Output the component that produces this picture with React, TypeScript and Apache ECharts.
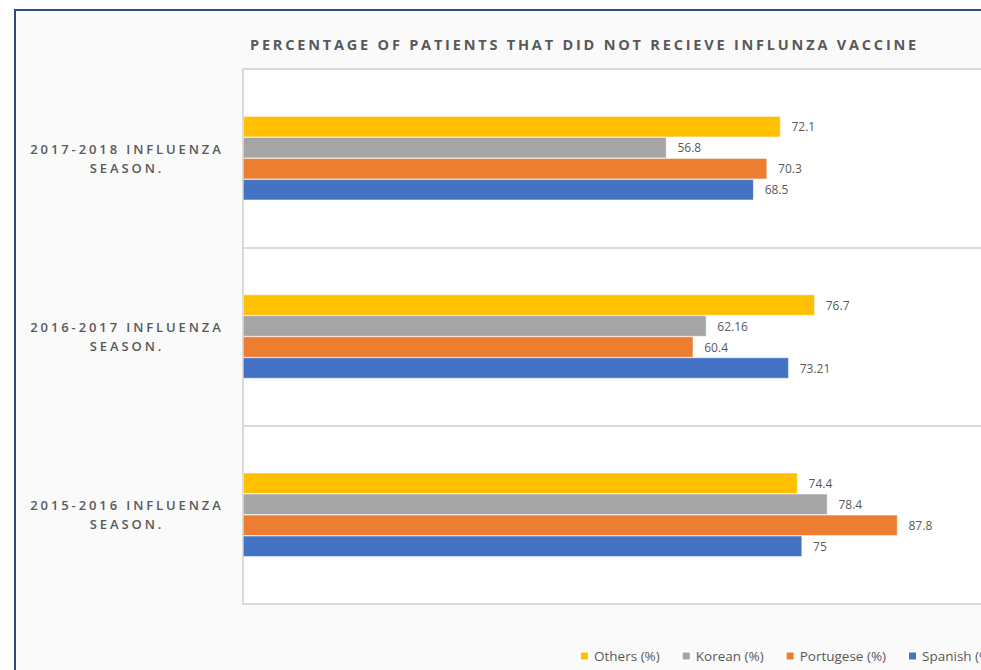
import React, { useEffect, useRef } from "react";
import * as echarts from "echarts";

const categories = [
  "2015-2016 INFLUENZA SEASON.",
  "2016-2017 INFLUENZA SEASON.",
  "2017-2018 INFLUENZA SEASON.",
];
const others = [74.4, 76.7, 72.1];
const korean = [78.4, 62.16, 56.8];
const portugese = [87.8, 60.4, 70.3];
const spanish = [75, 73.21, 68.5];
const seriesNames = ["Others (%)", "Korean (%)", "Portugese (%)", "Spanish (%)"];
const titleText = "PERCENTAGE OF PATIENTS THAT DID NOT RECIEVE INFLUNZA VACCINE";

const colors = ["#FFC000", "#A5A5A5", "#ED7D31", "#4472C4"];

export default function App() {
  const ref = useRef<HTMLDivElement>(null);
  useEffect(() => {
    if (!ref.current) return;
    const chart = echarts.init(ref.current, null, { renderer: "svg" });
    const values = [others, korean, portugese, spanish];
    chart.setOption({
      animation: false,
      backgroundColor: "#ffffff",
      textStyle: { fontFamily: "Open Sans" },
      graphic: [
        {
          type: "rect",
          z: -10,
          shape: { x: 15, y: 10, width: 1000, height: 700 },
          style: { fill: "#fafafa", stroke: "#2E4B7A", lineWidth: 2 },
        },
      ],
      title: {
        text: titleText,
        left: 245,
        top: 32,
        textStyle: {
          fontFamily: "Open Sans",
          fontWeight: "bold",
          fontSize: 14.5,
          color: "#595959",
        },
      },
      legend: {
        data: seriesNames,
        left: 574,
        top: 644,
        width: 480,
        itemWidth: 9,
        itemHeight: 9,
        itemGap: 21,
        icon: "rect",
        textStyle: { fontFamily: "Open Sans", fontSize: 13.5, color: "#595959" },
      },
      grid: {
        left: 243,
        top: 69,
        right: 0,
        height: 535,
        show: true,
        backgroundColor: "#ffffff",
        borderWidth: 0,
      },
      xAxis: {
        type: "value",
        min: 0,
        max: 99,
        show: false,
      },
      yAxis: {
        type: "category",
        data: categories,
        axisTick: { show: false },
        axisLine: { show: true, lineStyle: { color: "#d9d9d9", width: 2 } },
        splitLine: { show: true, lineStyle: { color: "#d9d9d9", width: 2 } },
        axisLabel: {
          margin: 116,
          align: "center",
          fontFamily: "Open Sans",
          fontWeight: 600,
          fontSize: 13,
          lineHeight: 19,
          padding: [0, 0, 3, 0],
          color: "#595959",
          formatter: (v: string) => v.replace(" SEASON.", "\nSEASON."),
        },
      },
      series: seriesNames.map((name, i) => ({
        name,
        type: "bar",
        data: values[i],
        barWidth: 21,
        barGap: "0%",
        itemStyle: { color: colors[i], borderColor: "#ffffff", borderWidth: 0.5 },
        label: {
          show: true,
          position: "right",
          distance: 11,
          fontFamily: "Open Sans",
          fontSize: 12,
          color: "#595959",
        },
      })),
    });
    return () => chart.dispose();
  }, []);
  return (
    <>
      <style>{`#chartbox svg text[style*="bold"]{letter-spacing:2.8px} #chartbox svg text[style*="600"]{letter-spacing:2.9px}`}</style>
      <div
        id="chartbox"
        ref={ref}
        style={{ position: "absolute", left: 0, top: 0, width: 981, height: 670, overflow: "hidden" }}
      />
    </>
  );
}
